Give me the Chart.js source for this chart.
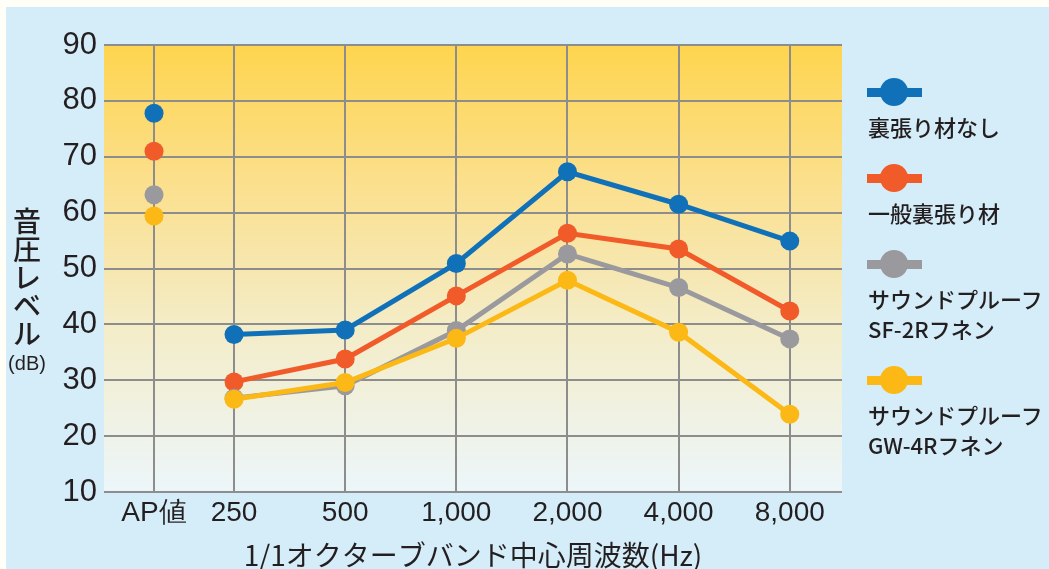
<!DOCTYPE html>
<html lang="ja">
<head>
<meta charset="utf-8">
<title>音圧レベル</title>
<script src="https://cdn.jsdelivr.net/npm/chart.js@4.4.1/dist/chart.umd.min.js"></script>
<style>
  html, body { margin: 0; padding: 0; background: #fffef7; }
  #panel { position: absolute; left: 6px; top: 7px; width: 1043px; height: 562px; background: #d5edf9; }
  #panel canvas { position: absolute; left: 0; top: 0; }
  #legend { position: absolute; left: 861px; top: 71px; font-family: 'Noto Sans CJK JP', sans-serif; font-size: 22px; font-weight: 500; color: #231f20; }
  .lg-mark { position: relative; width: 55px; height: 28px; }
  .lg-mark .bar { position: absolute; left: 0; top: 9.5px; width: 55px; height: 9px; }
  .lg-mark .dot { position: absolute; left: 13px; top: 0; width: 28px; height: 28px; border-radius: 50%; }
  .lg-text { margin: 5px 0 23px 1px; line-height: 30px; white-space: pre; }
</style>
</head>
<body>
<div id="panel">
  <canvas id="chart"></canvas>
  <div id="legend"></div>
</div>
<script>
// ── data ─────────────────────────────────────────────
const xLabels     = ['AP値', '250', '500', '1,000', '2,000', '4,000', '8,000'];
const seriesNames = ['裏張り材なし', '一般裏張り材', 'サウンドプルーフ\nSF-2Rフネン', 'サウンドプルーフ\nGW-4Rフネン'];
const apValues    = [77.8, 71.0, 63.2, 59.4];          // AP値 column
const noBacking   = [38.2, 39.0, 50.9, 67.3, 61.5, 54.9];
const general     = [29.7, 33.8, 45.1, 56.3, 53.5, 42.4];
const sf2r        = [26.8, 29.0, 38.9, 52.6, 46.6, 37.4];
const gw4r        = [26.6, 29.6, 37.5, 47.9, 38.6, 23.9];
const yTicks      = [10, 20, 30, 40, 50, 60, 70, 80, 90];

const bandSeries = [noBacking, general, sf2r, gw4r];
const colors     = ['#1071b9', '#f15a29', '#9a9a9e', '#fcb814'];

// x axis: octave bands sit at 0..5, the AP column sits a bit left of 250 Hz
const AP_POS = -0.72;
const tickPos = [AP_POS, 0, 1, 2, 3, 4, 5];

function buildData(ap, bands) {
  const pts = [{ x: AP_POS, y: ap }, { x: AP_POS / 2, y: null }];  // null breaks the line
  bands.forEach((v, i) => pts.push({ x: tickPos[i + 1], y: v }));
  return pts;
}

const datasets = bandSeries.map((s, i) => ({
  label: seriesNames[i],
  data: buildData(apValues[i], s),
  borderColor: colors[i],
  backgroundColor: colors[i],
  borderWidth: 5,
  pointRadius: 9.5,
  pointHoverRadius: 9.5,
  pointBorderWidth: 0,
  spanGaps: false,
  tension: 0,
  order: bandSeries.length - i,   // yellow on top
}));

const latin = '"Liberation Sans", Arial, sans-serif';

// ── plugins ──────────────────────────────────────────
const plotBg = {
  id: 'plotBg',
  beforeDraw(chart) {
    const { ctx, chartArea: a } = chart;
    const g = ctx.createLinearGradient(0, a.top, 0, a.bottom);
    g.addColorStop(0,    '#fed54f');
    g.addColorStop(0.3,  '#fbdf8b');
    g.addColorStop(0.62, '#f4ecc6');
    g.addColorStop(1,    '#ecf6fa');
    ctx.save();
    ctx.fillStyle = g;
    ctx.fillRect(a.left, a.top, a.right - a.left, a.bottom - a.top);
    ctx.restore();
  }
};

const yTitle = {
  id: 'yTitle',
  afterDraw(chart) {
    const { ctx } = chart;
    ctx.save();
    ctx.fillStyle = '#231f20';
    ctx.textAlign = 'center';
    ctx.textBaseline = 'middle';
    ctx.font = '500 28px "Noto Sans CJK JP", sans-serif';
    ['音', '圧', 'レ', 'ベ', 'ル'].forEach((c, i) => ctx.fillText(c, 21, 214 + i * 28));
    ctx.font = '20px ' + latin;
    ctx.fillText('(dB)', 21, 357);
    ctx.restore();
  }
};

// ── chart ────────────────────────────────────────────
const gridColor = '#8d8d8d';

new Chart(document.getElementById('chart').getContext('2d'), {
  type: 'line',
  data: { datasets },
  options: {
    responsive: true,
    maintainAspectRatio: false,
    animation: false,
    layout: { padding: { top: 38, right: 207, bottom: 0, left: 0 } },
    plugins: { legend: { display: false }, tooltip: { enabled: false } },
    scales: {
      x: {
        type: 'linear',
        min: -1.17,
        max: 5.47,
        afterBuildTicks: s => { s.ticks = tickPos.map(v => ({ value: v })); },
        afterFit: s => { s.height = 77; },
        ticks: {
          callback: (v, i) => xLabels[i],
          font: { family: latin, size: 28 },
          color: '#231f20',
          padding: 4,
          maxRotation: 0,
          autoSkip: false,
        },
        grid: { color: gridColor, lineWidth: 2, drawTicks: false },
        border: { display: false },
        title: {
          display: true,
          text: '1/1オクターブバンド中心周波数(Hz)',
          font: { family: '"Noto Sans CJK JP", sans-serif', size: 28, lineHeight: 1 },
          color: '#231f20',
          padding: 0,
        }
      },
      y: {
        min: 10,
        max: 90,
        afterBuildTicks: s => { s.ticks = yTicks.map(v => ({ value: v })); },
        afterFit: s => { s.width = 98; },
        ticks: {
          font: { family: latin, size: 31 },
          color: '#231f20',
          padding: 7,
        },
        grid: { color: gridColor, lineWidth: 2, drawTicks: false },
        border: { display: false },
      }
    }
  },
  plugins: [plotBg, yTitle]
});

// ── legend (html) ────────────────────────────────────
const legendEl = document.getElementById('legend');
seriesNames.forEach((name, i) => {
  const mark = document.createElement('div');
  mark.className = 'lg-mark';
  mark.innerHTML = `<div class="bar" style="background:${colors[i]}"></div><div class="dot" style="background:${colors[i]}"></div>`;
  const txt = document.createElement('div');
  txt.className = 'lg-text';
  txt.textContent = name;
  legendEl.appendChild(mark);
  legendEl.appendChild(txt);
});
</script>
</body>
</html>
